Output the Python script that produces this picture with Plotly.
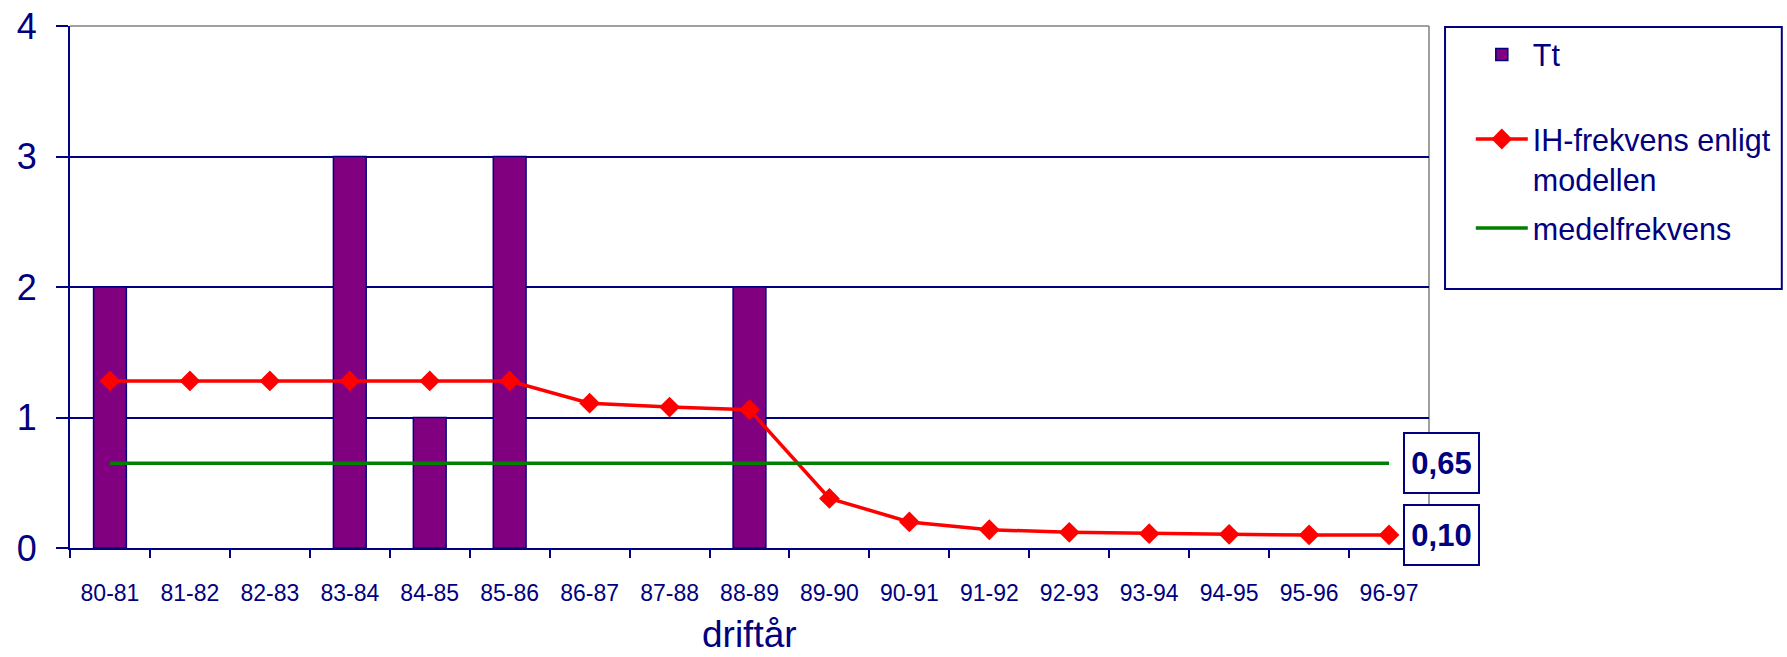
import plotly.graph_objects as go

categories = ["80-81", "81-82", "82-83", "83-84", "84-85", "85-86", "86-87", "87-88", "88-89",
              "89-90", "90-91", "91-92", "92-93", "93-94", "94-95", "95-96", "96-97"]
tt_values = [2, None, None, 3, 1, 3, None, None, 2, None, None, None, None, None, None, None, None]
ih_values = [1.28, 1.28, 1.28, 1.28, 1.28, 1.28, 1.11, 1.08, 1.06, 0.38, 0.20, 0.14, 0.12, 0.11, 0.105, 0.10, 0.10]
medel_values = [0.65, 0.65, 0.65, 0.65, 0.65, 0.65, 0.65, 0.65, 0.65, 0.65, 0.65, 0.65, 0.65, 0.65, 0.65, 0.65, 0.65]
y_ticks = [0, 1, 2, 3, 4]
x_title = "driftår"

NAVY = "#000080"
FONT = "Liberation Sans, Arial, sans-serif"

fig = go.Figure()
fig.add_trace(go.Bar(x=categories, y=tt_values, name="Tt", width=0.41,
                     marker=dict(color="#800080", line=dict(color=NAVY, width=1.5)),
                     legend="legend"))
fig.add_trace(go.Scatter(x=categories, y=ih_values, name="IH-frekvens enligt<br>modellen",
                         mode="lines+markers",
                         line=dict(color="#FF0000", width=3.5),
                         marker=dict(symbol="diamond", size=16, color="#FF0000"),
                         legend="legend2"))
fig.add_trace(go.Scatter(x=categories, y=medel_values, name="medelfrekvens", mode="lines",
                         line=dict(color="#008000", width=3.5), legend="legend3"))

def fmt(v):
    return f"{v:.2f}".replace(".", ",")

for v in (medel_values[-1], ih_values[-1]):
    fig.add_annotation(x=categories[-1], y=v, xref="x", yref="y", text=f"<b>{fmt(v)}</b>",
                       showarrow=False, xanchor="left", yanchor="middle", xshift=14,
                       width=73, height=58, borderpad=0, borderwidth=2, bordercolor=NAVY,
                       bgcolor="white", font=dict(family=FONT, size=31, color=NAVY))

# x-axis title
fig.add_annotation(x=0.5, y=0, xref="paper", yref="paper", text=x_title, showarrow=False,
                   xanchor="center", yanchor="middle", yshift=-86,
                   font=dict(family=FONT, size=37, color=NAVY))

n = len(categories)
LEG_FONT = dict(size=30.5, color=NAVY)
fig.update_layout(
    width=1787, height=657,
    margin=dict(l=70, r=357, t=26, b=109),
    paper_bgcolor="white", plot_bgcolor="white",
    font=dict(family=FONT, color=NAVY),
    xaxis=dict(type="category", tickson="boundaries", ticks="outside", ticklen=8, tickwidth=1.5,
               tickcolor=NAVY, showline=True, linecolor=NAVY, linewidth=2, showgrid=False,
               tickfont=dict(size=23, color=NAVY), range=[-0.5, n - 0.5], ticklabelstandoff=23,
               automargin=False),
    yaxis=dict(range=[0, 4], tickvals=y_ticks, ticks="outside", ticklen=12, tickwidth=1.5,
               tickcolor=NAVY, showline=True, linecolor=NAVY, linewidth=2,
               showgrid=True, gridcolor=NAVY, gridwidth=1.5, zeroline=False, automargin=False,
               tickfont=dict(size=36, color=NAVY), ticklabelstandoff=12),
    xaxis2=dict(overlaying="x", range=[-0.5, n - 0.5], tickvals=[i - 0.5 for i in range(n + 1)],
                ticks="inside", ticklen=8, tickwidth=1.5, tickcolor=NAVY, showticklabels=False,
                showgrid=False, zeroline=False, showline=False, side="bottom", automargin=False),
    yaxis2=dict(overlaying="y", range=[0, 4], tickvals=y_ticks, ticks="inside", ticklen=11,
                tickwidth=1.5, tickcolor=NAVY, showticklabels=False, showgrid=False,
                zeroline=False, showline=False, side="left", automargin=False),
    legend=dict(x=1.03, y=0.945, xanchor="left", yanchor="middle", bgcolor="rgba(0,0,0,0)",
                font=LEG_FONT, borderwidth=0, itemwidth=52),
    legend2=dict(x=1.03, y=0.834, xanchor="left", yanchor="top", bgcolor="rgba(0,0,0,0)",
                 font=LEG_FONT, borderwidth=0, valign="top", itemwidth=52),
    legend3=dict(x=1.03, y=0.6126, xanchor="left", yanchor="middle", bgcolor="rgba(0,0,0,0)",
                 font=LEG_FONT, borderwidth=0, itemwidth=52),
    showlegend=True,
)

# plot frame (top and right) in gray, legend box border
fig.add_shape(type="line", xref="paper", yref="paper", x0=0, x1=1, y0=1, y1=1,
              line=dict(color="#808080", width=1.5), layer="above")
fig.add_shape(type="line", xref="paper", yref="paper", x0=1, x1=1, y0=0, y1=1,
              line=dict(color="#808080", width=1.5), layer="below")
fig.add_shape(type="rect", xref="paper", yref="paper", x0=1.0118, x1=1.2596, y0=0.496, y1=0.998,
              line=dict(color=NAVY, width=2), fillcolor="rgba(0,0,0,0)", layer="above")

fig.write_html("out.html", config={"displayModeBar": False},
               post_script="document.body.style.margin='0';document.body.style.overflow='hidden';")
